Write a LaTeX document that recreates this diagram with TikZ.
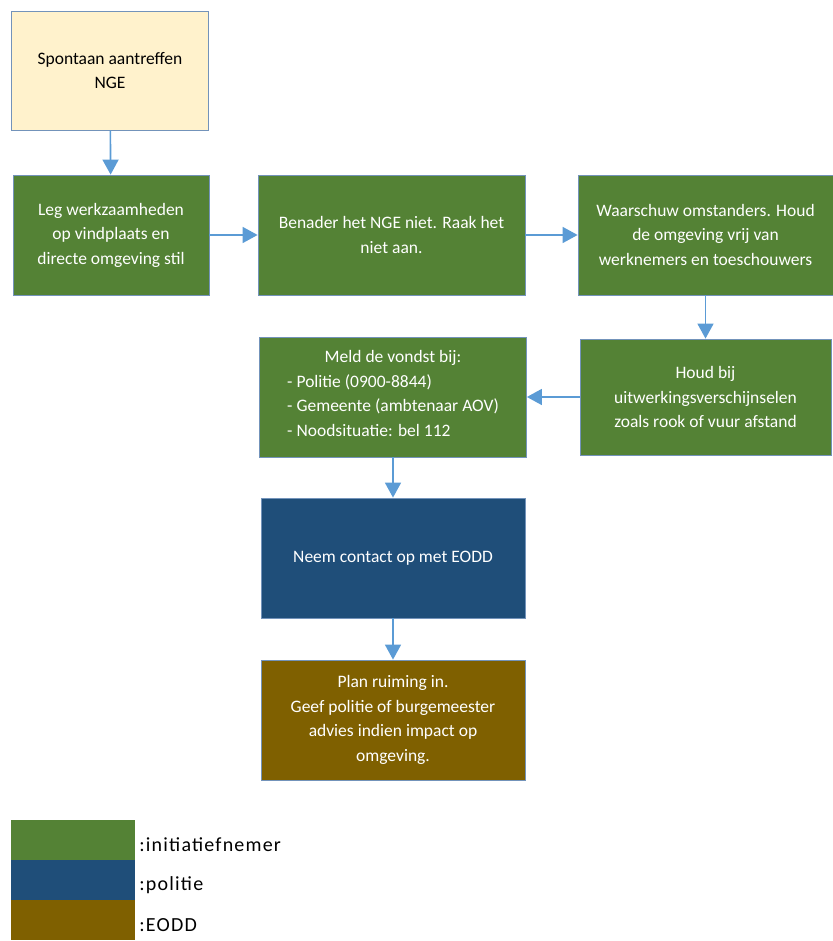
\documentclass[tikz,border=0pt]{standalone}
\usepackage{fontspec}
\setmainfont{Carlito}
\usepackage{tikz}
\usetikzlibrary{arrows.meta,positioning}

\definecolor{groen}{HTML}{548235}
\definecolor{blauw}{HTML}{1F4E79}
\definecolor{bruin}{HTML}{7F6000}
\definecolor{geel}{HTML}{FFF2CC}
\definecolor{rand}{HTML}{7393BA}
\definecolor{pijl}{HTML}{5B9BD5}

\tikzset{
  box/.style={rectangle, draw=rand, line width=0.8pt, minimum width=266pt, minimum height=120pt,
    align=center, text=white, inner sep=0pt, font=\fontsize{17.5}{24.5}\selectfont},
  initiatief/.style={box, fill=groen},
  politie/.style={box, fill=blauw},
  eodd/.style={box, fill=bruin},
  start/.style={box, fill=geel, text=black},
  legendbox/.style={rectangle, minimum width=124pt, minimum height=40pt, inner sep=0pt},
  legendtext/.style={inner sep=0pt, font=\fontsize{20}{22}\selectfont\addfontfeature{LetterSpace=6}}
}

\begin{document}
\begin{tikzpicture}[x=1pt, y=1pt, node distance=162pt,
  every edge/.style={draw=pijl, line width=1.6pt, -{Triangle[length=15pt,width=16pt]}}]
  \useasboundingbox (0,0) rectangle (832,941);

  \node [start, minimum width=197pt, minimum height=119pt] (spontaan) at (110,870.5) {Spontaan aantreffen\\NGE};
  \node [initiatief, minimum width=196pt, below of=spontaan, xshift=1pt, yshift=-2.5pt] (leg) {Leg werkzaamheden\\op vindplaats en\\directe omgeving stil};
  \node [initiatief, minimum width=267pt, right of=leg, xshift=118.5pt] (benader) {Benader het NGE niet. Raak het\\niet aan.};
  \node [initiatief, minimum width=255pt, right of=benader, xshift=152pt] (waarschuw) {Waarschuw omstanders. Houd\\de omgeving vrij van\\werknemers en toeschouwers};
  \node [initiatief, minimum width=251pt, minimum height=116pt, below of=waarschuw] (houd) {Houd bij\\uitwerkingsverschijnselen\\zoals rook of vuur afstand};
  \node [initiatief, minimum width=267pt, left of=houd, xshift=-150.5pt] (meld) {Meld de vondst bij:\\\begin{tabular}[t]{@{}l@{}}- Politie (0900-8844)\\- Gemeente (ambtenaar AOV)\\- Noodsituatie: bel 112\end{tabular}};
  \node [politie, minimum width=264pt, below of=meld, yshift=1pt] (neem) {Neem contact op met EODD};
  \node [eodd, minimum width=264pt, below of=neem] (plan) {Plan ruiming in.\\Geef politie of burgemeester\\advies indien impact op\\omgeving.};

  \path (spontaan) edge (leg);
  \path (leg) edge (benader);
  \path (benader) edge (waarschuw);
  \path (waarschuw) edge (houd);
  \path (houd) edge (meld);
  \path (meld) edge (neem);
  \path (neem) edge (plan);

  % legenda
  \node [legendbox, fill=groen] (lgroen) at (73,101) {};
  \node [legendbox, fill=blauw, below of=lgroen, node distance=40pt] (lblauw) {};
  \node [legendbox, fill=bruin, below of=lblauw, node distance=40pt] (lbruin) {};
  \node [legendtext, right=4pt of lgroen.east, yshift=-5pt] (tgroen) {:initiatiefnemer};
  \node [legendtext, right=4pt of lblauw.east, yshift=-5pt] (tblauw) {:politie};
  \node [legendtext, right=4pt of lbruin.east, yshift=-5pt] (tbruin) {:EODD};
\end{tikzpicture}
\end{document}
